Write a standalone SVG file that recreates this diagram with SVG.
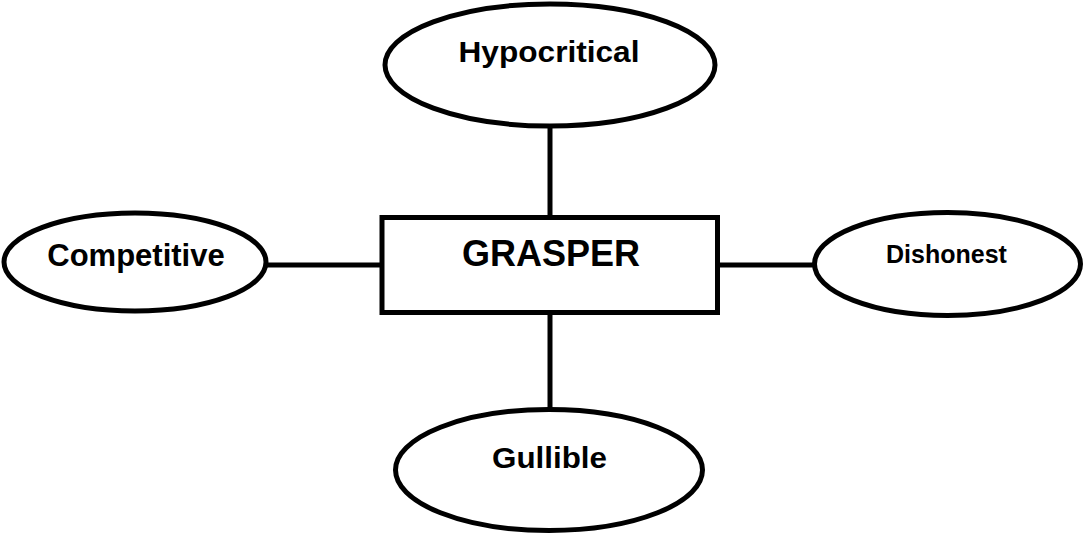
<svg xmlns="http://www.w3.org/2000/svg" width="1084" height="535" viewBox="0 0 1084 535">
<style>
.shape{fill:#fff;stroke:#000;stroke-width:5}
.conn{stroke:#000;stroke-width:5;fill:none}
text{font-family:"Liberation Sans",Arial,sans-serif;font-weight:bold;fill:#000;text-anchor:middle}
</style>
<rect width="1084" height="535" fill="#fff"/>
<g id="connectors">
<line class="conn" x1="550" y1="126" x2="550" y2="217"/>
<line class="conn" x1="550" y1="313" x2="550" y2="410"/>
<line class="conn" x1="266" y1="265" x2="381" y2="265"/>
<line class="conn" x1="718" y1="265" x2="815" y2="265"/>
</g>
<g id="grasper">
<rect class="shape" x="382" y="217.5" width="335.5" height="95"/>
<text x="551" y="266" font-size="36">GRASPER</text>
</g>
<g id="hypocritical">
<ellipse class="shape" cx="550" cy="65" rx="165" ry="61"/>
<text x="549" y="62" font-size="30" textLength="181" lengthAdjust="spacingAndGlyphs">Hypocritical</text>
</g>
<g id="competitive">
<ellipse class="shape" cx="135" cy="262" rx="131" ry="49"/>
<text x="136" y="266" font-size="31">Competitive</text>
</g>
<g id="dishonest">
<ellipse class="shape" cx="947.5" cy="264" rx="133" ry="51.5"/>
<text x="946.5" y="263" font-size="25">Dishonest</text>
</g>
<g id="gullible">
<ellipse class="shape" cx="549" cy="470" rx="153.5" ry="60.5"/>
<text x="549.5" y="468" font-size="29" textLength="115" lengthAdjust="spacingAndGlyphs">Gullible</text>
</g>
</svg>
